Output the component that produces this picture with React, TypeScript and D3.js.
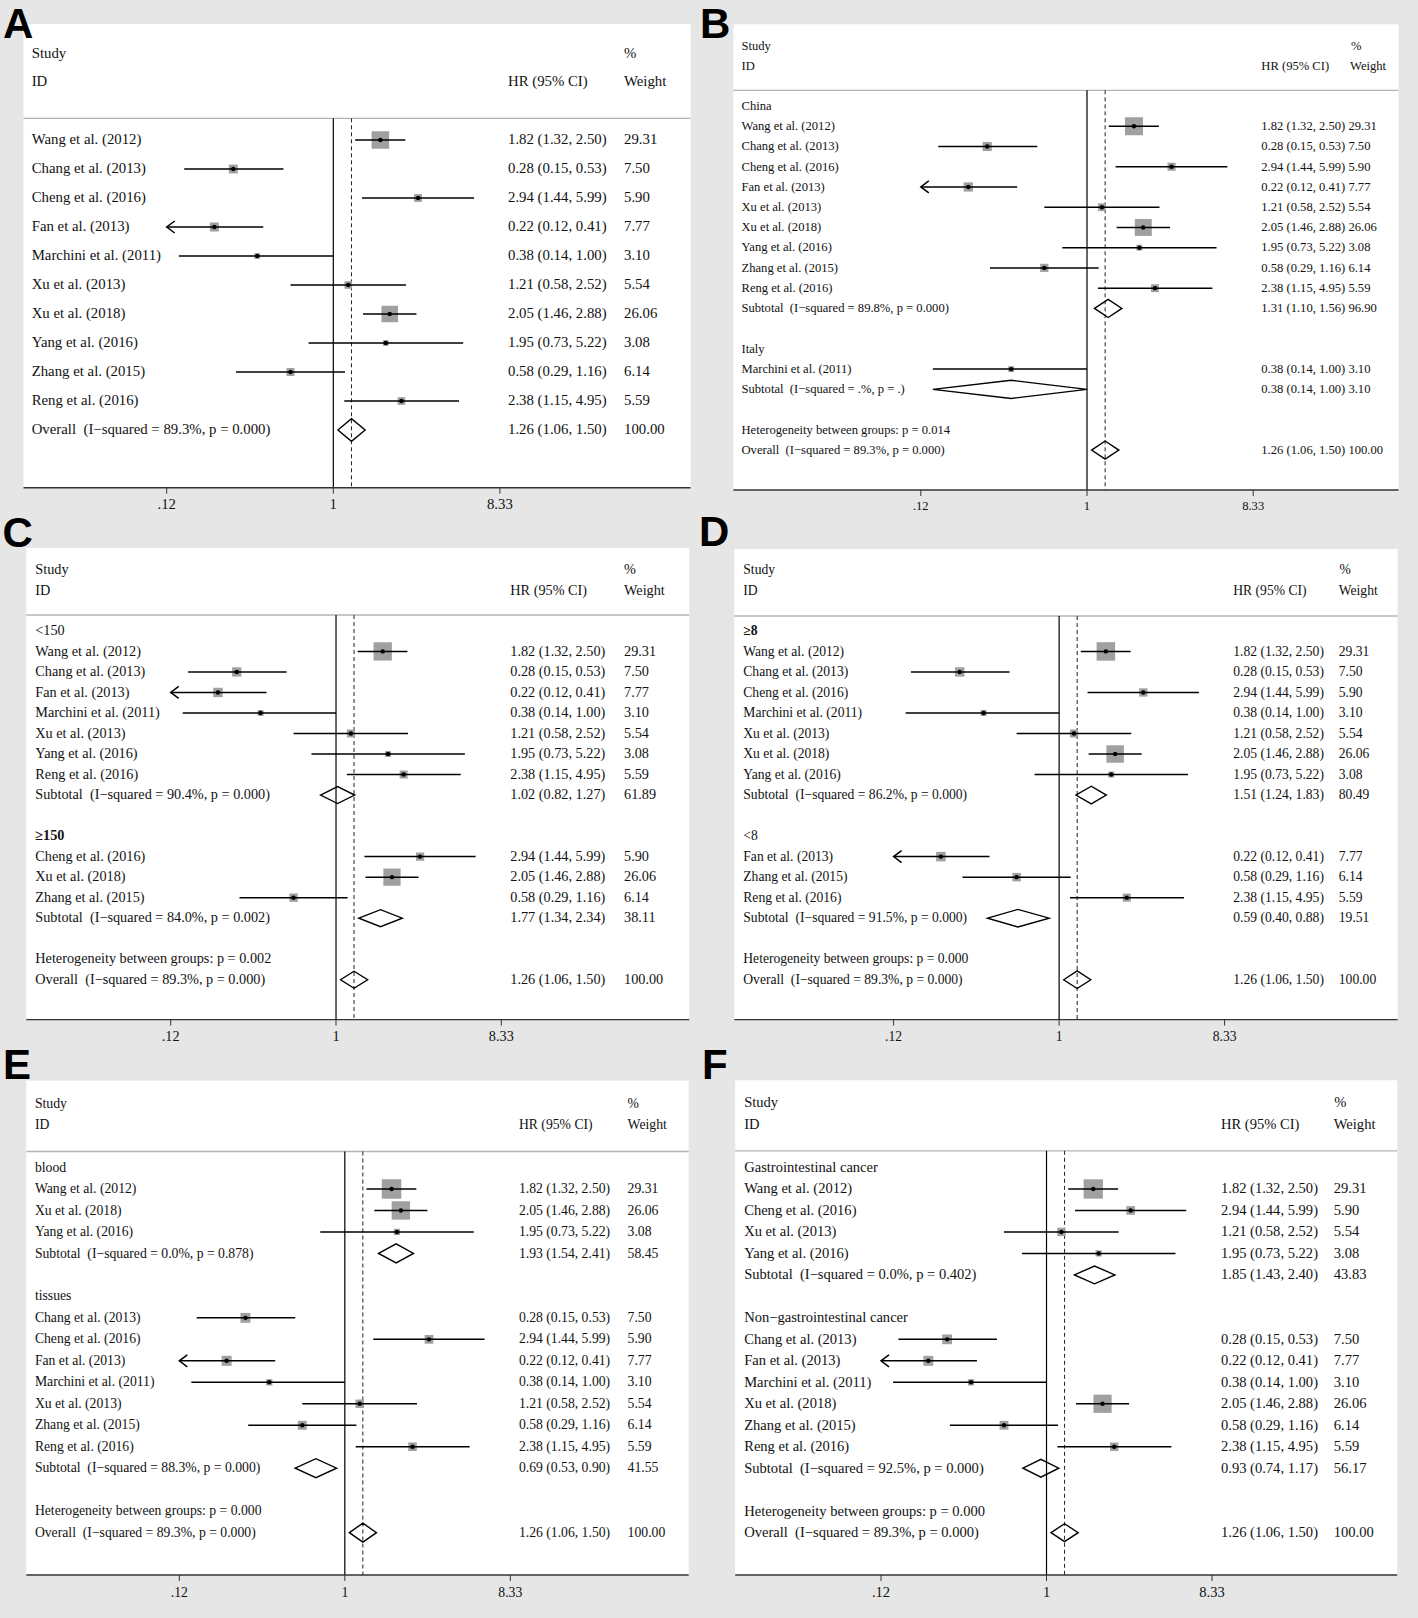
import React from "react";
import * as d3 from "d3";

// ---------------- DATA ----------------
const studyNames = [
  "Wang et al. (2012)",
  "Chang et al. (2013)",
  "Cheng et al. (2016)",
  "Fan et al. (2013)",
  "Marchini et al. (2011)",
  "Xu et al. (2013)",
  "Xu et al. (2018)",
  "Yang et al. (2016)",
  "Zhang et al. (2015)",
  "Reng et al. (2016)",
];
const studyHR = [1.82, 0.28, 2.94, 0.22, 0.38, 1.21, 2.05, 1.95, 0.58, 2.38];
const studyLower = [1.32, 0.15, 1.44, 0.12, 0.14, 0.58, 1.46, 0.73, 0.29, 1.15];
const studyUpper = [2.5, 0.53, 5.99, 0.41, 1.0, 2.52, 2.88, 5.22, 1.16, 4.95];
const studyWeight = [29.31, 7.5, 5.9, 7.77, 3.1, 5.54, 26.06, 3.08, 6.14, 5.59];

const overallHR = 1.26;
const overallLower = 1.06;
const overallUpper = 1.5;
const overallWeight = 100.0;
const overallI2 = "89.3%";
const overallP = "0.000";

const tickValues = [0.12, 1, 8.33];
const tickLabels = [".12", "1", "8.33"];
const axisDomain = [0.12, 8.33];

// Panel A: all studies
const panelAOrder = [0, 1, 2, 3, 4, 5, 6, 7, 8, 9];

// Panel B: country
const panelBGroups = ["China", "Italy"];
const panelBGroupBold = [false, false];
const panelBMembers = [[0, 1, 2, 3, 5, 6, 7, 8, 9], [4]];
const panelBSubHR = [1.31, 0.38];
const panelBSubLower = [1.1, 0.14];
const panelBSubUpper = [1.56, 1.0];
const panelBSubWeight = [96.9, 3.1];
const panelBSubI2 = ["89.8%", ".%"];
const panelBSubP = ["0.000", "."];
const panelBHetP = "0.014";

// Panel C: sample size
const panelCGroups = ["<150", "≥150"];
const panelCGroupBold = [false, true];
const panelCMembers = [[0, 1, 3, 4, 5, 7, 9], [2, 6, 8]];
const panelCSubHR = [1.02, 1.77];
const panelCSubLower = [0.82, 1.34];
const panelCSubUpper = [1.27, 2.34];
const panelCSubWeight = [61.89, 38.11];
const panelCSubI2 = ["90.4%", "84.0%"];
const panelCSubP = ["0.000", "0.002"];
const panelCHetP = "0.002";

// Panel D: score
const panelDGroups = ["≥8", "<8"];
const panelDGroupBold = [true, false];
const panelDMembers = [[0, 1, 2, 4, 5, 6, 7], [3, 8, 9]];
const panelDSubHR = [1.51, 0.59];
const panelDSubLower = [1.24, 0.4];
const panelDSubUpper = [1.83, 0.88];
const panelDSubWeight = [80.49, 19.51];
const panelDSubI2 = ["86.2%", "91.5%"];
const panelDSubP = ["0.000", "0.000"];
const panelDHetP = "0.000";

// Panel E: sample type
const panelEGroups = ["blood", "tissues"];
const panelEGroupBold = [false, false];
const panelEMembers = [[0, 6, 7], [1, 2, 3, 4, 5, 8, 9]];
const panelESubHR = [1.93, 0.69];
const panelESubLower = [1.54, 0.53];
const panelESubUpper = [2.41, 0.9];
const panelESubWeight = [58.45, 41.55];
const panelESubI2 = ["0.0%", "88.3%"];
const panelESubP = ["0.878", "0.000"];
const panelEHetP = "0.000";

// Panel F: cancer type
const panelFGroups = ["Gastrointestinal cancer", "Non\u2212gastrointestinal cancer"];
const panelFGroupBold = [false, false];
const panelFMembers = [[0, 2, 5, 7], [1, 3, 4, 6, 8, 9]];
const panelFSubHR = [1.85, 0.93];
const panelFSubLower = [1.43, 0.74];
const panelFSubUpper = [2.4, 1.17];
const panelFSubWeight = [43.83, 56.17];
const panelFSubI2 = ["0.0%", "92.5%"];
const panelFSubP = ["0.402", "0.000"];
const panelFHetP = "0.000";

// ---------------- ROW BUILDING ----------------
type Row = {
  kind: "group" | "study" | "subtotal" | "het" | "overall" | "blank";
  label: string;
  hr?: number;
  lo?: number;
  hi?: number;
  w?: number;
  bold?: boolean;
};

const MINUS = "\u2212";

function studyRow(i: number): Row {
  return {
    kind: "study",
    label: studyNames[i],
    hr: studyHR[i],
    lo: studyLower[i],
    hi: studyUpper[i],
    w: studyWeight[i],
  };
}

function overallRow(): Row {
  return {
    kind: "overall",
    label: `Overall  (I${MINUS}squared = ${overallI2}, p = ${overallP})`,
    hr: overallHR,
    lo: overallLower,
    hi: overallUpper,
    w: overallWeight,
  };
}

function buildGrouped(
  groups: string[],
  bold: boolean[],
  members: number[][],
  subHR: number[],
  subLo: number[],
  subHi: number[],
  subW: number[],
  subI2: string[],
  subP: string[],
  hetP: string
): Row[] {
  const rows: Row[] = [];
  groups.forEach((g, gi) => {
    rows.push({ kind: "group", label: g, bold: bold[gi] });
    members[gi].forEach((i) => rows.push(studyRow(i)));
    rows.push({
      kind: "subtotal",
      label: `Subtotal  (I${MINUS}squared = ${subI2[gi]}, p = ${subP[gi]})`,
      hr: subHR[gi],
      lo: subLo[gi],
      hi: subHi[gi],
      w: subW[gi],
    });
    rows.push({ kind: "blank", label: "" });
  });
  rows.push({ kind: "het", label: `Heterogeneity between groups: p = ${hetP}` });
  rows.push(overallRow());
  return rows;
}

const rowsA: Row[] = [...panelAOrder.map(studyRow), overallRow()];
const rowsB = buildGrouped(panelBGroups, panelBGroupBold, panelBMembers, panelBSubHR, panelBSubLower, panelBSubUpper, panelBSubWeight, panelBSubI2, panelBSubP, panelBHetP);
const rowsC = buildGrouped(panelCGroups, panelCGroupBold, panelCMembers, panelCSubHR, panelCSubLower, panelCSubUpper, panelCSubWeight, panelCSubI2, panelCSubP, panelCHetP);
const rowsD = buildGrouped(panelDGroups, panelDGroupBold, panelDMembers, panelDSubHR, panelDSubLower, panelDSubUpper, panelDSubWeight, panelDSubI2, panelDSubP, panelDHetP);
const rowsE = buildGrouped(panelEGroups, panelEGroupBold, panelEMembers, panelESubHR, panelESubLower, panelESubUpper, panelESubWeight, panelESubI2, panelESubP, panelEHetP);
const rowsF = buildGrouped(panelFGroups, panelFGroupBold, panelFMembers, panelFSubHR, panelFSubLower, panelFSubUpper, panelFSubWeight, panelFSubI2, panelFSubP, panelFHetP);

// ---------------- LAYOUT ----------------
type Layout = {
  letter: string;
  letterX: number;
  letterY: number;
  box: [number, number, number, number];
  fs: number;
  studyX: number;
  hrX: number;
  wX: number;
  pctX: number;
  weightHeadX: number;
  head1: number;
  head2: number;
  sepY: number;
  row0: number;
  step: number;
  range: [number, number];
  tickY: number;
  boxMax: number;
  dh: number;
  combined: boolean;
  rows: Row[];
};

const layouts: Layout[] = [
  { letter: "A", letterX: 3, letterY: 37.7, box: [23.5, 24, 690.5, 487.7], fs: 14.8, studyX: 31.7, hrX: 508, wX: 624, pctX: 624, weightHeadX: 624, head1: 53.3, head2: 81.7, sepY: 118.3, row0: 140, step: 29.0, range: [166.7, 499.9], tickY: 505, boxMax: 17.5, dh: 11.3, combined: false, rows: rowsA },
  { letter: "B", letterX: 700, letterY: 37.7, box: [733.4, 24.3, 1398.5, 490], fs: 12.6, studyX: 741.5, hrX: 1261.3, wX: 1350, pctX: 1351, weightHeadX: 1350, head1: 46, head2: 66, sepY: 90.3, row0: 106, step: 20.24, range: [920.8, 1253.2], tickY: 506, boxMax: 18, dh: 9.1, combined: true, rows: rowsB },
  { letter: "C", letterX: 2.5, letterY: 547.3, box: [26.3, 548, 689.2, 1019.6], fs: 14.25, studyX: 35.3, hrX: 510.3, wX: 624, pctX: 624, weightHeadX: 624, head1: 570, head2: 590.3, sepY: 615, row0: 630.9, step: 20.52, range: [170.7, 501.3], tickY: 1036.5, boxMax: 18.3, dh: 8.5, combined: false, rows: rowsC },
  { letter: "D", letterX: 699, letterY: 546.3, box: [734.3, 549, 1397.6, 1019.6], fs: 13.6, studyX: 743.3, hrX: 1233.3, wX: 1338.8, pctX: 1339.5, weightHeadX: 1338.8, head1: 570, head2: 590.7, sepY: 616, row0: 630.9, step: 20.52, range: [893.6, 1224.6], tickY: 1036.5, boxMax: 18.5, dh: 8.8, combined: false, rows: rowsD },
  { letter: "E", letterX: 3, letterY: 1079.3, box: [26.3, 1080.6, 688.7, 1575], fs: 13.7, studyX: 34.9, hrX: 518.9, wX: 627.6, pctX: 627.6, weightHeadX: 627.6, head1: 1103.4, head2: 1124.8, sepY: 1151.5, row0: 1167.5, step: 21.48, range: [179.3, 510.3], tickY: 1592.8, boxMax: 19.5, dh: 9.5, combined: false, rows: rowsE },
  { letter: "F", letterX: 702, letterY: 1079.3, box: [735.2, 1080.3, 1397.2, 1575], fs: 14.55, studyX: 744.2, hrX: 1221, wX: 1333.8, pctX: 1334.2, weightHeadX: 1333.8, head1: 1103, head2: 1124.8, sepY: 1150.8, row0: 1167.5, step: 21.48, range: [881, 1212], tickY: 1592.8, boxMax: 19.3, dh: 8.9, combined: false, rows: rowsF },
];

const SERIF = "'Liberation Serif', 'Times New Roman', Times, serif";
const SANS = "'Liberation Sans', Arial, Helvetica, sans-serif";
const maxWeight = d3.max(studyWeight) as number;

function fmtHR(r: Row) {
  return `${r.hr!.toFixed(2)} (${r.lo!.toFixed(2)}, ${r.hi!.toFixed(2)})`;
}

function Panel({ L }: { L: Layout }) {
  const [x0, y0, x1, y1] = L.box;
  const x = d3.scaleLog().domain(axisDomain).range(L.range);
  const yOf = (i: number) => L.row0 + i * L.step;
  const base = (y: number) => y + 0.3 * L.fs;
  const textStyle: React.CSSProperties = { whiteSpace: "pre" };

  return (
    <g>
      <rect x={x0} y={y0} width={x1 - x0} height={y1 - y0} fill="#ffffff" />
      <text x={L.letterX} y={L.letterY} fontFamily={SANS} fontWeight="bold" fontSize={42} fill="#000">
        {L.letter}
      </text>
      {/* headers */}
      <g fontFamily={SERIF} fontSize={L.fs} fill="#111">
        <text x={L.studyX} y={base(L.head1)}>Study</text>
        <text x={L.studyX} y={base(L.head2)}>ID</text>
        <text x={L.hrX} y={base(L.head2)} style={textStyle}>HR (95% CI)</text>
        <text x={L.pctX} y={base(L.head1)}>%</text>
        <text x={L.weightHeadX} y={base(L.head2)}>Weight</text>
      </g>
      <line x1={x0} x2={x1} y1={L.sepY} y2={L.sepY} stroke="#b4b4b4" strokeWidth={1.3} />
      {/* reference lines */}
      <line x1={x(1)} x2={x(1)} y1={L.sepY} y2={y1} stroke="#000" strokeWidth={1.2} />
      <line x1={x(overallHR)} x2={x(overallHR)} y1={L.sepY} y2={y1} stroke="#222" strokeWidth={1} strokeDasharray="4,3" />
      {/* rows */}
      {L.rows.map((r, i) => {
        const y = yOf(i);
        const items: React.ReactNode[] = [];
        if (r.kind === "study") {
          const side = L.boxMax * Math.sqrt(r.w! / maxWeight);
          const clipLo = r.lo! <= axisDomain[0];
          const lx = x(Math.max(r.lo!, axisDomain[0]));
          const hx = x(Math.min(r.hi!, axisDomain[1]));
          items.push(
            <rect key="sq" x={x(r.hr!) - side / 2} y={y - side / 2} width={side} height={side} fill="#a0a0a0" />
          );
          items.push(<line key="ci" x1={lx} x2={hx} y1={y} y2={y} stroke="#000" strokeWidth={1.5} />);
          if (clipLo) {
            items.push(
              <path key="ar" d={`M${lx + 8},${y - 6} L${lx},${y} L${lx + 8},${y + 6}`} fill="none" stroke="#000" strokeWidth={1.5} />
            );
          }
          items.push(<circle key="pt" cx={x(r.hr!)} cy={y} r={2.2} fill="#000" />);
        }
        if (r.kind === "subtotal" || r.kind === "overall") {
          const pts = [
            [x(r.lo!), y],
            [x(r.hr!), y - L.dh],
            [x(r.hi!), y],
            [x(r.hr!), y + L.dh],
          ];
          items.push(
            <polygon key="dm" points={pts.map((p) => p.join(",")).join(" ")} fill="none" stroke="#000" strokeWidth={1.4} />
          );
        }
        const hasStats = r.kind === "study" || r.kind === "subtotal" || r.kind === "overall";
        return (
          <g key={i}>
            {items}
            {r.label && (
              <text
                x={L.studyX}
                y={base(y)}
                fontFamily={SERIF}
                fontSize={L.fs}
                fontWeight={r.bold ? "bold" : "normal"}
                fill="#111"
                style={textStyle}
              >
                {r.label}
              </text>
            )}
            {hasStats && (
              <text x={L.hrX} y={base(y)} fontFamily={SERIF} fontSize={L.fs} fill="#111" style={textStyle}>
                {L.combined ? `${fmtHR(r)} ${r.w!.toFixed(2)}` : fmtHR(r)}
              </text>
            )}
            {hasStats && !L.combined && (
              <text x={L.wX} y={base(y)} fontFamily={SERIF} fontSize={L.fs} fill="#111">
                {r.w!.toFixed(2)}
              </text>
            )}
          </g>
        );
      })}
      {/* axis */}
      <line x1={x0} x2={x1} y1={y1} y2={y1} stroke="#333" strokeWidth={1.4} />
      {tickValues.map((t, i) => (
        <g key={t}>
          <line x1={x(t)} x2={x(t)} y1={y1} y2={y1 + 6} stroke="#333" strokeWidth={1} />
          <text x={x(t)} y={base(L.tickY)} textAnchor="middle" fontFamily={SERIF} fontSize={L.fs} fill="#111">
            {tickLabels[i]}
          </text>
        </g>
      ))}
    </g>
  );
}

export default function App() {
  return (
    <svg
      width={1418}
      height={1618}
      style={{ position: "absolute", left: 0, top: 0, display: "block" }}
      xmlns="http://www.w3.org/2000/svg"
    >
      <rect x={0} y={0} width={1418} height={1618} fill="#e6e6e6" />
      {layouts.map((L) => (
        <Panel key={L.letter} L={L} />
      ))}
    </svg>
  );
}
